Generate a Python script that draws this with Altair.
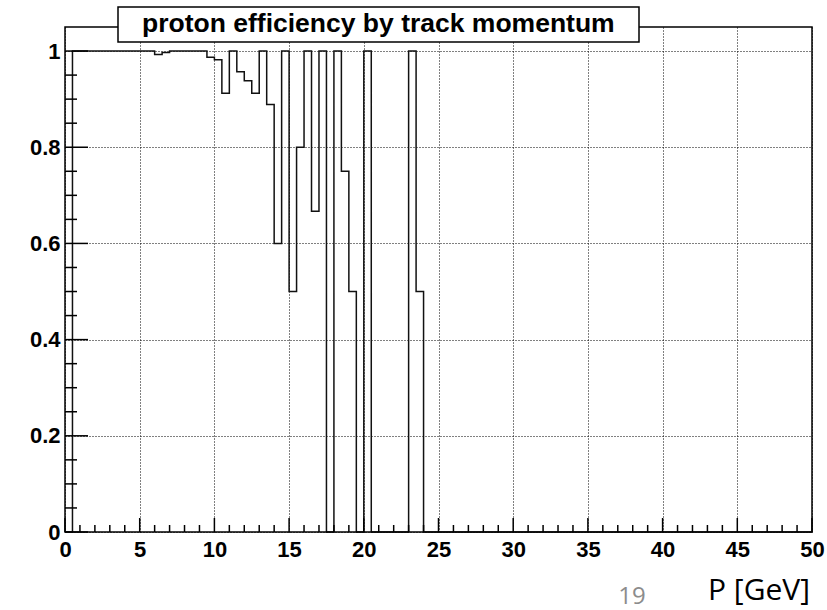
import altair as alt
import pandas as pd

# Proton efficiency per 0.5 GeV momentum bin, 0 - 50 GeV (100 bins)
BIN_WIDTH = 0.5
efficiency = [
    0.0, 1.0, 1.0, 1.0, 1.0, 1.0, 1.0, 1.0, 1.0, 1.0,        # 0 - 5
    1.0, 1.0, 0.993, 0.997, 1.0, 1.0, 1.0, 1.0, 1.0, 0.987,  # 5 - 10
    0.982, 0.912, 1.0, 0.957, 0.938, 0.912, 1.0, 0.889, 0.6, 1.0,  # 10 - 15
    0.5, 0.8, 1.0, 0.667, 1.0, 0.0, 1.0, 0.75, 0.5, 0.0,     # 15 - 20
    1.0, 0.0, 0.0, 0.0, 0.0, 0.0, 1.0, 0.5, 0.0, 0.0,        # 20 - 25
    0.0, 0.0, 0.0, 0.0, 0.0, 0.0, 0.0, 0.0, 0.0, 0.0,        # 25 - 30
    0.0, 0.0, 0.0, 0.0, 0.0, 0.0, 0.0, 0.0, 0.0, 0.0,        # 30 - 35
    0.0, 0.0, 0.0, 0.0, 0.0, 0.0, 0.0, 0.0, 0.0, 0.0,        # 35 - 40
    0.0, 0.0, 0.0, 0.0, 0.0, 0.0, 0.0, 0.0, 0.0, 0.0,        # 40 - 45
    0.0, 0.0, 0.0, 0.0, 0.0, 0.0, 0.0, 0.0, 0.0, 0.0,        # 45 - 50
]

x_major = [0, 5, 10, 15, 20, 25, 30, 35, 40, 45, 50]
x_minor = [v for v in range(51) if v % 5]
y_major = [0, 0.2, 0.4, 0.6, 0.8, 1.0]
y_minor = [round(i * 0.05, 2) for i in range(21) if i % 4]

X_MAX = 50
Y_MAX = 1.05
W, H = 747, 505
LABEL_FONT = "Liberation Sans"

# step outline: lower edge of each bin, closed at the upper edge of the last bin
edges = [i * BIN_WIDTH for i in range(len(efficiency))] + [X_MAX]
hist = pd.DataFrame({"p": edges, "eff": efficiency + [efficiency[-1]]})

xs = alt.Scale(domain=[0, X_MAX], nice=False, zero=False)
ys = alt.Scale(domain=[0, Y_MAX], nice=False, zero=False)

x_axis = alt.Axis(
    values=x_major, grid=True, gridColor="black", gridDash=[1, 2], gridWidth=1,
    gridOpacity=1, domain=False, ticks=False, labelPadding=7,
    labelFont=LABEL_FONT, labelFontSize=22, labelFontWeight="bold",
    labelColor="black", title=None, labelFlush=False, labelOverlap=False,
)
y_axis = alt.Axis(
    values=y_major, grid=True, gridColor="black", gridDash=[1, 2], gridWidth=1,
    gridOpacity=1, domain=False, ticks=False, labelPadding=5,
    labelFont=LABEL_FONT, labelFontSize=22, labelFontWeight="bold",
    labelColor="black", title=None, labelFlush=False, labelOverlap=False,
    labelExpr="datum.value == 0 ? '0' : datum.value == 1 ? '1' : format(datum.value, '.1f')",
)

line = alt.Chart(hist).mark_line(
    interpolate="step-after", color="#111111", strokeWidth=1.5
).encode(
    x=alt.X("p:Q", scale=xs, axis=x_axis),
    y=alt.Y("eff:Q", scale=ys, axis=y_axis),
)

frame = alt.Chart(pd.DataFrame({"a": [0]})).mark_rect(
    fill="transparent", stroke="black", strokeWidth=1.5
).encode(
    x=alt.datum(0, scale=xs), x2=alt.datum(X_MAX),
    y=alt.datum(0, scale=ys), y2=alt.datum(Y_MAX),
)


def yticks(values, length):
    return alt.Chart(pd.DataFrame({"v": values})).mark_rule(
        color="black", strokeWidth=1.5
    ).encode(y=alt.Y("v:Q", scale=ys), x=alt.value(0), x2=alt.value(length))


def xticks(values, length):
    return alt.Chart(pd.DataFrame({"v": values})).mark_rule(
        color="black", strokeWidth=1.5
    ).encode(x=alt.X("v:Q", scale=xs), y=alt.value(H), y2=alt.value(H - length))


title_box = alt.Chart(pd.DataFrame({"a": [0]})).mark_rect(
    fill="white", stroke="black", strokeWidth=1.5
).encode(x=alt.value(53), x2=alt.value(574), y=alt.value(-20), y2=alt.value(15))

title_text = alt.Chart(pd.DataFrame({"t": ["proton efficiency by track momentum"]})).mark_text(
    font=LABEL_FONT, fontSize=26.5, fontWeight="bold", color="black",
    align="left", baseline="alphabetic",
).encode(text="t:N", x=alt.value(77), y=alt.value(5))

axis_name = alt.Chart(pd.DataFrame({"t": ["P [GeV]"]})).mark_text(
    font="Open Sans", fontSize=30, color="black", align="left", baseline="alphabetic",
).encode(text="t:N", x=alt.value(643), y=alt.value(573))

page_no = alt.Chart(pd.DataFrame({"t": ["19"]})).mark_text(
    font="Open Sans", fontSize=24, color="#8c8c8c", align="center", baseline="alphabetic",
).encode(text="t:N", x=alt.value(567), y=alt.value(577))

chart = alt.layer(
    line,
    yticks(y_major, 23), yticks(y_minor, 12),
    xticks(x_major, 14), xticks(x_minor, 7),
    frame, title_box, title_text, axis_name, page_no,
).properties(
    width=W, height=H,
    padding={"left": 65, "top": 27, "right": 15, "bottom": 78},
    autosize=alt.AutoSizeParams(type="none"),
    background="white",
).configure_view(strokeWidth=0)

chart.save("out.html", embed_options={"renderer": "svg", "actions": False})
